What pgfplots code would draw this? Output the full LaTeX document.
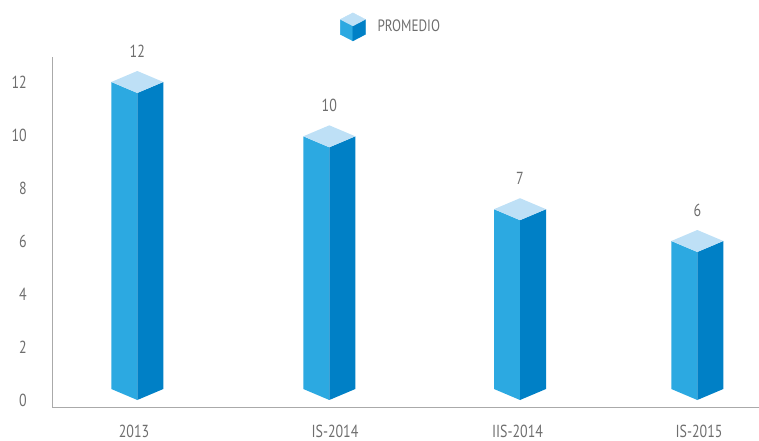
\documentclass[border=0pt]{standalone}
\usepackage{pgfplots}
\usepackage{pgfplotstable}
\pgfplotsset{compat=1.18}
\usepackage{fontspec}
\setmainfont{PT Sans}[FakeStretch=0.8]
\definecolor{faceL}{RGB}{44,169,225}
\definecolor{faceR}{RGB}{0,128,198}
\definecolor{faceT}{RGB}{190,224,246}
\definecolor{axgray}{RGB}{170,170,170}
\definecolor{txt}{RGB}{110,110,110}
\newdimen\barh
\pgfdeclareplotmark{prism}{%
  \barh=\val bp \barh=26.5\barh
  \pgfsetfillcolor{faceL}%
  \pgfpathmoveto{\pgfpoint{-26bp}{0bp}}%
  \pgfpathlineto{\pgfpoint{0bp}{-11bp}}%
  \pgfpathlineto{\pgfpoint{0bp}{-\barh}}%
  \pgfpathlineto{\pgfpoint{-26bp}{11bp-\barh}}%
  \pgfpathclose
  \pgfusepath{fill}%
  \pgfsetfillcolor{faceR}%
  \pgfpathmoveto{\pgfpoint{26bp}{0bp}}%
  \pgfpathlineto{\pgfpoint{0bp}{-11bp}}%
  \pgfpathlineto{\pgfpoint{0bp}{-\barh}}%
  \pgfpathlineto{\pgfpoint{26bp}{11bp-\barh}}%
  \pgfpathclose
  \pgfusepath{fill}%
  \pgfsetfillcolor{faceT}%
  \pgfpathmoveto{\pgfpoint{-26bp}{0bp}}%
  \pgfpathlineto{\pgfpoint{0bp}{11bp}}%
  \pgfpathlineto{\pgfpoint{26bp}{0bp}}%
  \pgfpathlineto{\pgfpoint{0bp}{-11bp}}%
  \pgfpathclose
  \pgfusepath{fill}%
}
\pgfplotstableread{
x v
137.3 12.0
329.3 9.95
520.0 7.2
697.3 6.0
}\bardata
\begin{document}
\begin{tikzpicture}
\begin{axis}[
  x=1bp, y=26.5bp,
  xmin=53, xmax=759, ymin=-0.283, ymax=12.94,
  axis x line*=bottom, axis y line*=left,
  axis line style={axgray, line width=1bp},
  major tick length=0pt,
  ytick={0,2,...,12},
  xtick={134,335,517.5,699},
  xticklabels={2013,IS-2014,IIS-2014,IS-2015},
  tick label style={font=\fontsize{17.5}{20}\selectfont, text=txt},
  yticklabel style={anchor=east, inner sep=0pt, xshift=-26bp},
  xticklabel style={anchor=center, inner sep=0pt, yshift=-24bp},
  /pgf/number format/assume math mode=true,
  clip=false,
  legend style={draw=none, fill=none, at={(axis cs:340,14.08)}, anchor=west,
    inner sep=0pt, font=\fontsize{16.5}{19}\selectfont, text=txt,
    /tikz/every odd column/.append style={column sep=10bp}},
]
\addplot[scatter, only marks, mark=prism,
  scatter/@pre marker code/.code={},
  scatter/@post marker code/.code={},
  visualization depends on={rawy \as \val},
  point meta=y,
  nodes near coords,
  every node near coord/.append style={anchor=center, yshift=31bp,
    font=\fontsize{17.5}{20}\selectfont, text=txt,
    /pgf/number format/fixed, /pgf/number format/precision=0},
  legend image code/.code={
    \fill[faceL] (0bp,7.5bp) -- (12.5bp,1bp) -- (12.5bp,-14bp) -- (0bp,-7.5bp) -- cycle;
    \fill[faceR] (25bp,7.5bp) -- (12.5bp,1bp) -- (12.5bp,-14bp) -- (25bp,-7.5bp) -- cycle;
    \fill[faceT] (0bp,7.5bp) -- (12.5bp,14bp) -- (25bp,7.5bp) -- (12.5bp,1bp) -- cycle;
  },
] table[x=x, y=v] {\bardata};
\addlegendentry{PROMEDIO}
\coordinate (BL) at (axis cs:0,-1.547);
\coordinate (TR) at (axis cs:759,15.094);
\end{axis}
\pgfresetboundingbox
\useasboundingbox (BL) rectangle (TR);
\end{tikzpicture}
\end{document}
